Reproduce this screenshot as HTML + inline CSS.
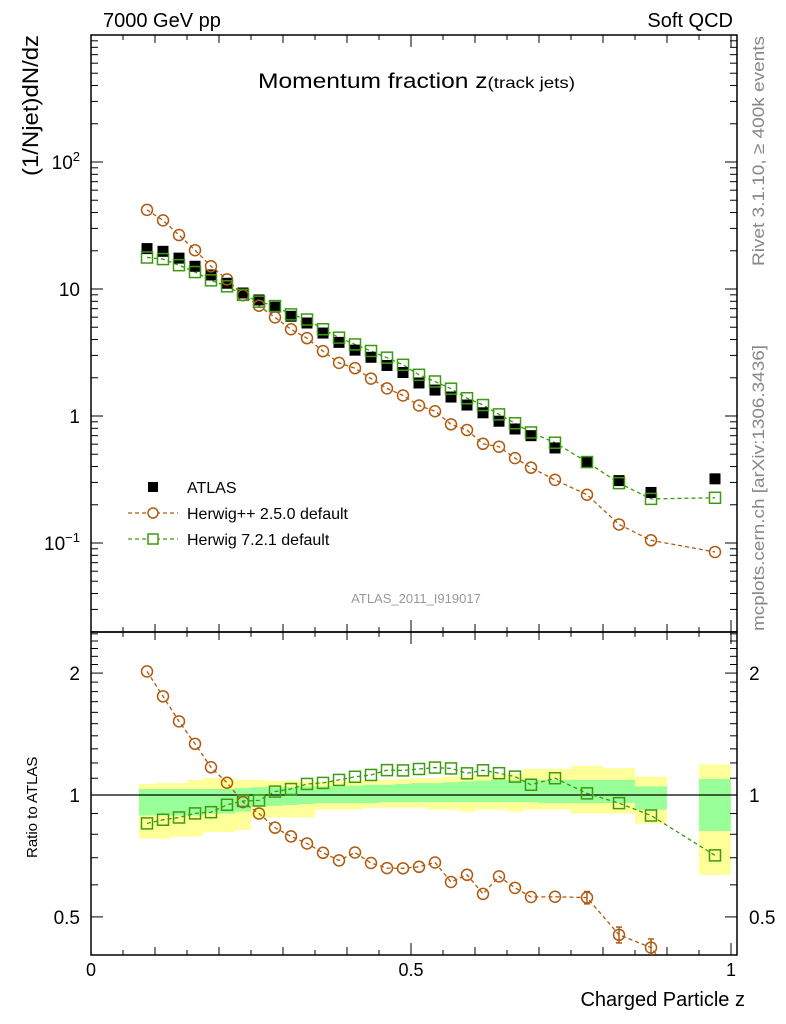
<!DOCTYPE html>
<html><head><meta charset="utf-8">
<style>
html,body{margin:0;padding:0;background:#fff;}
svg{display:block;font-family:"Liberation Sans",sans-serif;}
</style></head>
<body>
<svg id="chart" width="786" height="1024" viewBox="0 0 786 1024" xmlns="http://www.w3.org/2000/svg">
<text x="103" y="27" font-size="20">7000 GeV pp</text>
<text x="733" y="27" font-size="20" text-anchor="end">Soft QCD</text>
<text x="258" y="88" font-size="21" textLength="317" lengthAdjust="spacingAndGlyphs">Momentum fraction z<tspan font-size="16">(track jets)</tspan></text>
<text transform="translate(38,176) rotate(-90)" font-size="22" textLength="141" lengthAdjust="spacingAndGlyphs">(1/Njet)dN/dz</text>
<text transform="translate(37,858) rotate(-90)" font-size="15">Ratio to ATLAS</text>
<text transform="translate(764,266) rotate(-90)" font-size="17" fill="#888" textLength="230" lengthAdjust="spacingAndGlyphs">Rivet 3.1.10, ≥ 400k events</text>
<text transform="translate(764,631) rotate(-90)" font-size="17" fill="#888" textLength="286" lengthAdjust="spacingAndGlyphs">mcplots.cern.ch [arXiv:1306.3436]</text>
<text x="416" y="603" font-size="13" fill="#999" text-anchor="middle">ATLAS_2011_I919017</text>
<text x="745" y="1006" font-size="20" text-anchor="end">Charged Particle z</text>
<g id="main"></g>
<g id="ratio"></g>
<g id="legend">
  <rect x="148" y="482" width="10" height="10" fill="#000"/>
  <text x="187" y="493" font-size="16">ATLAS</text>
  <line x1="128" y1="513" x2="178" y2="513" stroke="#b05a10" stroke-width="1.2" stroke-dasharray="4,3"/>
  <circle cx="153" cy="513" r="5" fill="#fff" stroke="#b05a10" stroke-width="1.5"/>
  <text x="187" y="519" font-size="16">Herwig++ 2.5.0 default</text>
  <line x1="128" y1="539" x2="178" y2="539" stroke="#3d9a10" stroke-width="1.2" stroke-dasharray="4,3"/>
  <rect x="148" y="534" width="10" height="10" fill="#fff" stroke="#3d9a10" stroke-width="1.5"/>
  <text x="187" y="545" font-size="16">Herwig 7.2.1 default</text>
</g>
</svg>
<script>
var zCenters=[0.0875,0.1125,0.1375,0.1625,0.1875,0.2125,0.2375,0.2625,0.2875,0.3125,0.3375,0.3625,0.3875,0.4125,0.4375,0.4625,0.4875,0.5125,0.5375,0.5625,0.5875,0.6125,0.6375,0.6625,0.6875,0.725,0.775,0.825,0.875,0.975];
var binLo=[0.075,0.1,0.125,0.15,0.175,0.2,0.225,0.25,0.275,0.3,0.325,0.35,0.375,0.4,0.425,0.45,0.475,0.5,0.525,0.55,0.575,0.6,0.625,0.65,0.675,0.7,0.75,0.8,0.85,0.95];
var binHi=[0.1,0.125,0.15,0.175,0.2,0.225,0.25,0.275,0.3,0.325,0.35,0.375,0.4,0.425,0.45,0.475,0.5,0.525,0.55,0.575,0.6,0.625,0.65,0.675,0.7,0.75,0.8,0.85,0.9,1.0];
var atlas=[20.8,19.8,17.5,15.1,12.9,11.1,9.3,8.2,7.2,6.1,5.4,4.5,3.8,3.3,2.9,2.5,2.2,1.82,1.60,1.41,1.22,1.06,0.91,0.79,0.70,0.56,0.43,0.31,0.25,0.32];
var herwigpp=[42.0,34.7,26.6,20.2,15.1,11.9,8.93,7.38,5.98,4.82,4.10,3.24,2.62,2.38,1.97,1.65,1.45,1.21,1.09,0.86,0.775,0.604,0.573,0.466,0.392,0.314,0.240,0.140,0.105,0.085];
var herwigppErr=[0.005,0.005,0.005,0.005,0.005,0.005,0.005,0.005,0.006,0.006,0.007,0.008,0.008,0.009,0.01,0.012,0.014,0.015,0.018,0.02,0.022,0.025,0.025,0.028,0.03,0.028,0.035,0.045,0.05,0.08];
var herwig7=[17.7,17.2,15.4,13.6,11.7,10.5,8.99,7.95,7.34,6.31,5.75,4.82,4.14,3.66,3.25,2.88,2.53,2.11,1.87,1.64,1.38,1.22,1.03,0.877,0.742,0.616,0.434,0.296,0.2225,0.227];
var yellowUp=[1.065,1.07,1.07,1.09,1.10,1.10,1.09,1.09,1.085,1.085,1.08,1.08,1.08,1.085,1.085,1.09,1.095,1.10,1.10,1.11,1.11,1.12,1.12,1.13,1.16,1.16,1.18,1.165,1.11,1.19];
var yellowDn=[0.78,0.78,0.79,0.79,0.81,0.81,0.82,0.88,0.88,0.88,0.88,0.92,0.92,0.92,0.93,0.93,0.93,0.93,0.92,0.92,0.91,0.92,0.92,0.91,0.92,0.92,0.90,0.90,0.85,0.635];
var greenUp=[1.035,1.035,1.035,1.035,1.035,1.035,1.04,1.045,1.045,1.045,1.05,1.05,1.05,1.055,1.06,1.06,1.065,1.07,1.07,1.075,1.08,1.085,1.09,1.09,1.09,1.09,1.09,1.09,1.05,1.095];
var greenDn=[0.89,0.89,0.89,0.89,0.90,0.90,0.91,0.935,0.94,0.945,0.95,0.955,0.955,0.955,0.955,0.96,0.96,0.96,0.96,0.96,0.96,0.96,0.96,0.96,0.96,0.955,0.955,0.955,0.92,0.815];
var mainTickBase=["10","1","10","10"];
var mainTickExp=["−1","","","2"];
var mainTickVals=[0.1,1,10,100];
var ratioTickLabels=["0.5","1","2"];
var ratioTickVals=[0.5,1,2];
var xTickLabels=["0","0.5","1"];
var xTickVals=[0,0.5,1];

var NS="http://www.w3.org/2000/svg";
var L=91,R=737,T=35,MB=632,RB=955;
function X(z){return 91+640*z;}
function YM(v){return 416-127*Math.log10(v);}
function YR(r){return 795-405*Math.log10(r);}
function el(parent,tag,attrs){var e=document.createElementNS(NS,tag);for(var k in attrs)e.setAttribute(k,attrs[k]);parent.appendChild(e);return e;}
var main=document.getElementById('main'),ratio=document.getElementById('ratio');
var BROWN="#b05a10",GREEN="#3d9a10";

var defs=el(document.getElementById('chart'),'defs',{});
var c1=el(defs,'clipPath',{id:'cm'});el(c1,'rect',{x:L,y:T,width:R-L,height:MB-T});
var c2=el(defs,'clipPath',{id:'cr'});el(c2,'rect',{x:L,y:MB,width:R-L,height:RB-MB});

var bands=el(ratio,'g',{'clip-path':'url(#cr)'});
for(var i=0;i<binLo.length;i++){
  var b=el(bands,'rect',{x:X(binLo[i]),y:YR(yellowUp[i]),width:X(binHi[i])-X(binLo[i]),height:YR(yellowDn[i])-YR(yellowUp[i]),fill:'#ffff99'});
  
  
}
for(var i=0;i<binLo.length;i++){
  var b=el(bands,'rect',{x:X(binLo[i]),y:YR(greenUp[i]),width:X(binHi[i])-X(binLo[i]),height:YR(greenDn[i])-YR(greenUp[i]),fill:'#99ff99'});
  
  
}
el(ratio,'line',{x1:L,y1:YR(1),x2:R,y2:YR(1),stroke:'#000','stroke-width':1.3});

el(main,'rect',{x:L,y:T,width:R-L,height:MB-T,fill:'none',stroke:'#000','stroke-width':1.5});
el(ratio,'rect',{x:L,y:MB,width:R-L,height:RB-MB,fill:'none',stroke:'#000','stroke-width':1.5});

[[T,1],[MB,-1],[MB,1],[RB,-1]].forEach(function(p){
  for(var k=0;k<=20;k++){var z=k*0.05;var len=(k%10==0)?12:(k%2==0?8:5);
    var x=X(z);el(main,'line',{x1:x,y1:p[0],x2:x,y2:p[0]+p[1]*len,stroke:'#000','stroke-width':1});}
});
for(var i=0;i<xTickLabels.length;i++){
  var t=el(ratio,'text',{x:X(xTickVals[i]),y:976,'font-size':18,'text-anchor':'middle'});t.textContent=xTickLabels[i];
  
  
}
for(var e=-2;e<=2;e++){for(var m=1;m<10;m++){var v=m*Math.pow(10,e);var y=YM(v);if(y<T||y>MB)continue;var len=m==1?12:7;
  el(main,'line',{x1:L,y1:y,x2:L+len,y2:y,stroke:'#000','stroke-width':1});
  el(main,'line',{x1:R,y1:y,x2:R-len,y2:y,stroke:'#000','stroke-width':1});}}
for(var i=0;i<mainTickVals.length;i++){
  var t=el(main,'text',{x:80,y:YM(mainTickVals[i])+7,'font-size':19,'text-anchor':'end'});
  
  
  var b1=el(t,'tspan',{});b1.textContent=mainTickBase[i];
  if(mainTickExp[i]){var s1=el(t,'tspan',{dy:-8,'font-size':13});s1.textContent=mainTickExp[i];}
}
var rt=[0.4,0.5,0.6,0.7,0.8,0.9,1,1.1,1.2,1.3,1.4,1.5,1.6,1.7,1.8,1.9,2,2.1,2.2,2.3,2.4,2.5];
rt.forEach(function(v){var y=YR(v);if(y<MB||y>RB)return;var len=(v==0.5||v==1||v==2)?12:7;
  el(ratio,'line',{x1:L,y1:y,x2:L+len,y2:y,stroke:'#000','stroke-width':1});
  el(ratio,'line',{x1:R,y1:y,x2:R-len,y2:y,stroke:'#000','stroke-width':1});});
for(var i=0;i<ratioTickLabels.length;i++){
  var t=el(ratio,'text',{x:80,y:YR(ratioTickVals[i])+7,'font-size':19,'text-anchor':'end'});t.textContent=ratioTickLabels[i];
  
  
  var t2=el(ratio,'text',{x:749,y:YR(ratioTickVals[i])+7,'font-size':19});t2.textContent=ratioTickLabels[i];
  
  
}

var gm=el(main,'g',{'clip-path':'url(#cm)'});
function poly(g,xs,ys,col){var d='';for(var i=0;i<xs.length;i++)d+=(i?'L':'M')+xs[i].toFixed(1)+','+ys[i].toFixed(1);
  return el(g,'path',{d:d,fill:'none',stroke:col,'stroke-width':1.3,'stroke-dasharray':'4,3'});}
var xs=zCenters.map(X);
var p1=poly(gm,xs,herwigpp.map(YM),BROWN);


var p2=poly(gm,xs,herwig7.map(YM),GREEN);


for(var i=0;i<zCenters.length;i++){
  var a=el(gm,'rect',{x:xs[i]-5.5,y:YM(atlas[i])-5.5,width:11,height:11,fill:'#000'});
  
  
}
for(var i=0;i<zCenters.length;i++){
  var c=el(gm,'circle',{cx:xs[i],cy:YM(herwigpp[i]),r:5.5,fill:'none',stroke:BROWN,'stroke-width':1.5});
  
  
  var s=el(gm,'rect',{x:xs[i]-5.5,y:YM(herwig7[i])-5.5,width:11,height:11,fill:'none',stroke:GREEN,'stroke-width':1.5});
  
  
}

var gr=el(ratio,'g',{'clip-path':'url(#cr)'});
var rpp=herwigpp.map(function(v,i){return v/atlas[i];});
var r7=herwig7.map(function(v,i){return v/atlas[i];});
var q1=poly(gr,xs,rpp.map(YR),BROWN);


var q2=poly(gr,xs,r7.map(YR),GREEN);


for(var i=0;i<zCenters.length;i++){
  var e1=rpp[i]*(1+herwigppErr[i]),e2=rpp[i]*(1-herwigppErr[i]);
  if(YR(e2)-YR(e1)>12){
    el(gr,'line',{x1:xs[i],y1:YR(e1),x2:xs[i],y2:YR(e2),stroke:BROWN,'stroke-width':1.5});
    el(gr,'line',{x1:xs[i]-3,y1:YR(e1),x2:xs[i]+3,y2:YR(e1),stroke:BROWN,'stroke-width':1.5});
    el(gr,'line',{x1:xs[i]-3,y1:YR(e2),x2:xs[i]+3,y2:YR(e2),stroke:BROWN,'stroke-width':1.5});
  }
  var c=el(gr,'circle',{cx:xs[i],cy:YR(rpp[i]),r:5.5,fill:'none',stroke:BROWN,'stroke-width':1.5});
  
  
  var s=el(gr,'rect',{x:xs[i]-5.5,y:YR(r7[i])-5.5,width:11,height:11,fill:'none',stroke:GREEN,'stroke-width':1.5});
  
  
}
</script>
</body></html>
